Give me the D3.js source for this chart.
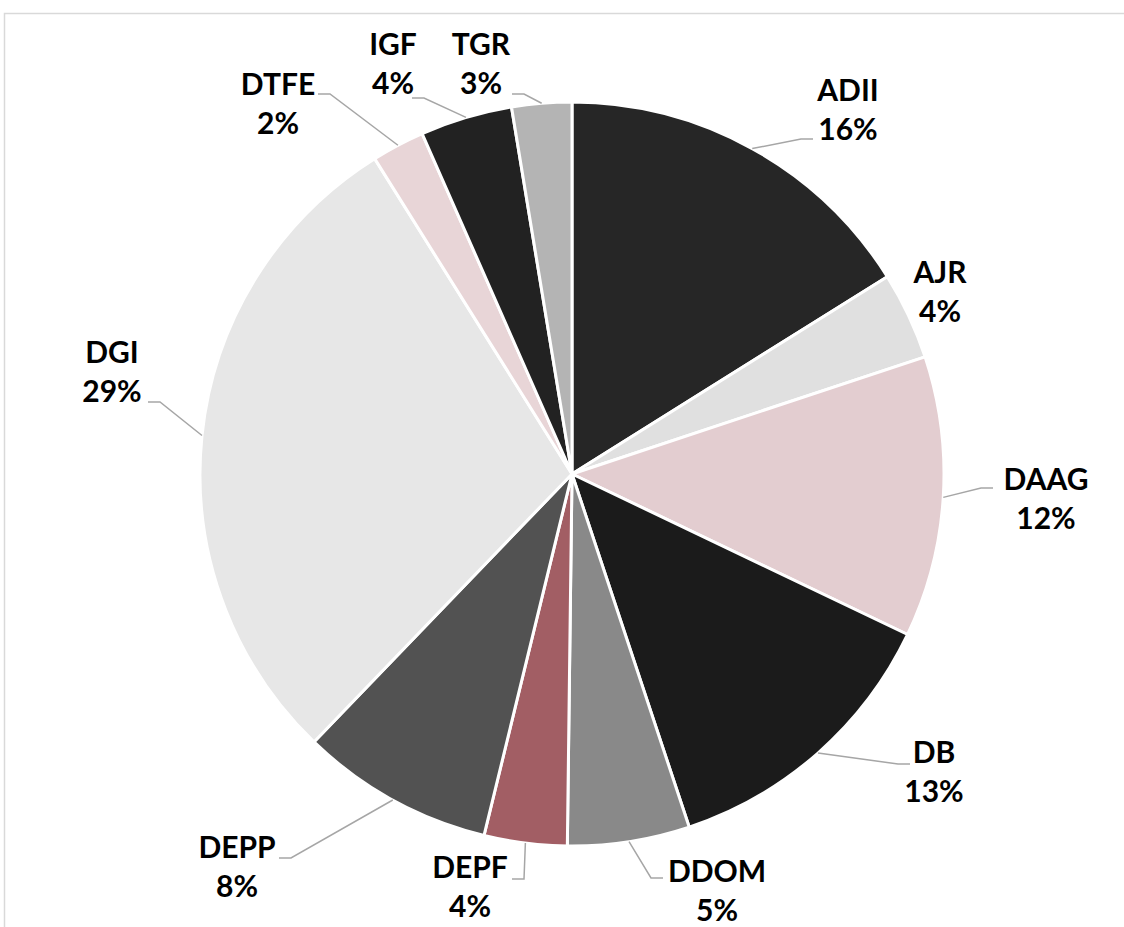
<!DOCTYPE html>
<html>
<head>
<meta charset="utf-8">
<script src="https://cdn.jsdelivr.net/npm/d3@7"></script>
<style>
  html, body { margin: 0; padding: 0; background: #fff; }
  svg { display: block; }
  text { font-family: Lato, "Open Sans", sans-serif; font-weight: 700; fill: #000; }
</style>
</head>
<body>
<svg id="chart" width="1124" height="927"></svg>
<script>
// ---- data ----
const categories = ["ADII", "AJR", "DAAG", "DB", "DDOM", "DEPF", "DEPP", "DGI", "DTFE", "IGF", "TGR"];
const values     = [16.1, 3.8, 12.2, 12.8, 5.3, 3.6, 8.4, 28.9, 2.3, 4.0, 2.6];
const colors     = ["#262626", "#e0e0e0", "#e3cdd0", "#1b1b1b", "#898989", "#a25e64", "#525252", "#e7e7e7", "#e8d5d7", "#222222", "#b4b4b4"];

// ---- label layout (text centre x, first baseline y, leader end x/y, side) ----
const labelLayout = {
  ADII: { x: 848,  y: 101, end: [813, 139], side: 1 },
  AJR:  { x: 940,  y: 283, end: null,       side: 1 },
  DAAG: { x: 1046, y: 490, end: [993, 488], side: 1 },
  DB:   { x: 934,  y: 763, end: [910, 764], side: 1 },
  DDOM: { x: 717,  y: 882, end: [663, 878], side: 1 },
  DEPF: { x: 470,  y: 878, end: [512, 879], side: -1 },
  DEPP: { x: 237,  y: 858, end: [279, 858], side: -1 },
  DGI:  { x: 112,  y: 363, end: [148, 402], side: -1 },
  DTFE: { x: 278,  y: 95,  end: [318, 94],  side: -1 },
  IGF:  { x: 393,  y: 55,  end: [412, 98],  side: -1 },
  TGR:  { x: 481,  y: 55,  end: [512, 94],  side: -1 }
};

const W = 1124, H = 927;
const cx = 572, cy = 474, R = 372;
const lineGap = 38.5;

const svg = d3.select("#chart");

// chart area border
svg.append("rect")
  .attr("x", 4.5).attr("y", 13.5)
  .attr("width", W + 20).attr("height", H + 20)
  .attr("fill", "#fff")
  .attr("stroke", "#d9d9d9")
  .attr("stroke-width", 1.5);

const data = categories.map((c, i) => ({ name: c, value: values[i], color: colors[i] }));
const total = d3.sum(values);

const pie = d3.pie().sort(null).value(d => d.value).startAngle(0).endAngle(2 * Math.PI);
const arcs = pie(data);
const arc = d3.arc().innerRadius(0).outerRadius(R);

const g = svg.append("g").attr("transform", `translate(${cx},${cy})`);

g.selectAll("path.slice")
  .data(arcs)
  .enter().append("path")
  .attr("class", "slice")
  .attr("d", arc)
  .attr("fill", d => d.data.color)
  .attr("stroke", "#fff")
  .attr("stroke-width", 3)
  .attr("stroke-linejoin", "round");

// leader lines
const lines = svg.append("g");
arcs.forEach(a => {
  const L = labelLayout[a.data.name];
  if (!L || !L.end) return;
  const mid = (a.startAngle + a.endAngle) / 2;
  const sx = cx + R * Math.sin(mid), sy = cy - R * Math.cos(mid);
  const ex = L.end[0], ey = L.end[1];
  const elbowX = ex - 12 * L.side;
  lines.append("polyline")
    .attr("points", `${sx},${sy} ${elbowX},${ey} ${ex},${ey}`)
    .attr("fill", "none")
    .attr("stroke", "#a6a6a6")
    .attr("stroke-width", 1.5);
});

// labels
const labels = svg.append("g");
arcs.forEach(a => {
  const L = labelLayout[a.data.name];
  const t = labels.append("text")
    .attr("text-anchor", "middle")
    .attr("font-size", 30);
  t.append("tspan").attr("x", L.x).attr("y", L.y).text(a.data.name);
  t.append("tspan").attr("x", L.x).attr("y", L.y + lineGap)
    .text(Math.round(a.data.value / total * 100) + "%");
});
</script>
</body>
</html>
